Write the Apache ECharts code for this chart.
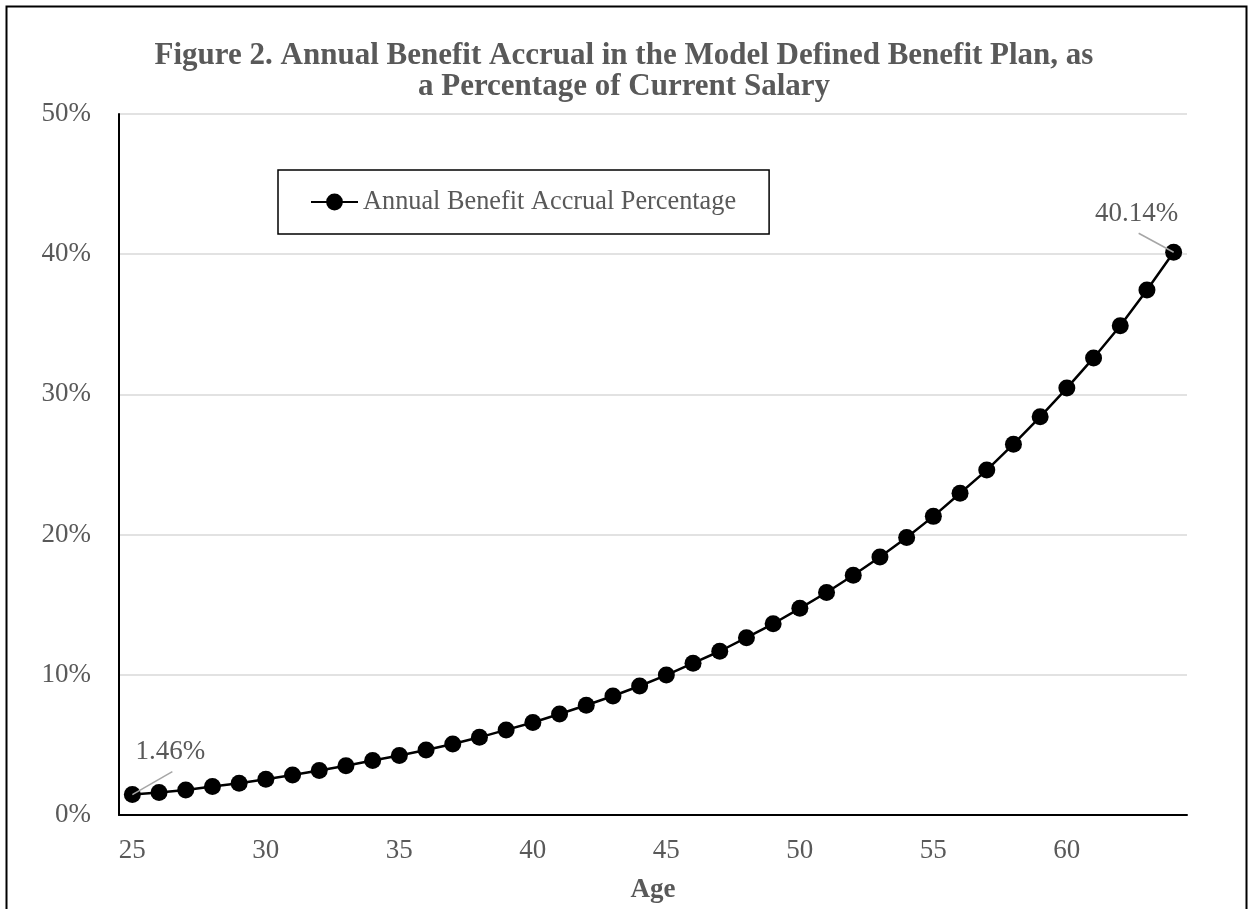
<!DOCTYPE html>
<html>
<head>
<meta charset="utf-8">
<title>Annual Benefit Accrual</title>
<script src="https://cdn.jsdelivr.net/npm/echarts@6/dist/echarts.min.js"></script>
<style>
  html, body { margin: 0; padding: 0; background: #fff; }
  #chart { width: 1248px; height: 909px; }
</style>
</head>
<body>
<div id="chart"></div>
<script>
// Ages 25..64 and the accrual (% of current salary) earned at each age
const ages = [25, 26, 27, 28, 29, 30, 31, 32, 33, 34,
              35, 36, 37, 38, 39, 40, 41, 42, 43, 44,
              45, 46, 47, 48, 49, 50, 51, 52, 53, 54,
              55, 56, 57, 58, 59, 60, 61, 62, 63, 64];
const accrualPct = [1.46, 1.61, 1.78, 2.03, 2.27, 2.55, 2.85, 3.18, 3.52, 3.89,
                    4.25, 4.63, 5.07, 5.54, 6.07, 6.60, 7.20, 7.83, 8.49, 9.20,
                    9.98, 10.83, 11.68, 12.65, 13.64, 14.74, 15.87, 17.10, 18.40, 19.80,
                    21.30, 22.95, 24.60, 26.45, 28.40, 30.45, 32.60, 34.90, 37.45, 40.14];
const yTicks = [0, 10, 20, 30, 40, 50];
const seriesName = 'Annual Benefit Accrual Percentage';
const titleLines = ['Figure 2. Annual Benefit Accrual in the Model Defined Benefit Plan, as',
                    'a Percentage of Current Salary'];
const xAxisTitle = 'Age';

const FONT = "'Liberation Serif', 'Times New Roman', serif";
const GREY = '#595959';

// Value callouts on the first and last points: [category index, value]
const lastIdx = accrualPct.length - 1;
const calloutData = [[0, accrualPct[0]], [lastIdx, accrualPct[lastIdx]]];
// Pixel offsets from the point: leader-line end (lx, ly) and text centre (tx, ty)
const calloutOffsets = [
  { lx: 40, ly: -23, tx: 38, ty: -43 },
  { lx: -35, ly: -19, tx: -37, ty: -38 }
];

const chart = echarts.init(document.getElementById('chart'), null, { renderer: 'canvas' });
chart.setOption({
  backgroundColor: '#ffffff',
  animation: false,
  title: {
    text: titleLines.join('\n'),
    left: 'center',
    top: 35,
    textStyle: {
      fontFamily: FONT,
      fontWeight: 'bold',
      fontSize: 31,
      lineHeight: 31,
      color: GREY
    }
  },
  legend: {
    left: 278,
    top: 170,
    orient: 'horizontal',
    padding: [17, 33, 17, 32],
    borderColor: '#000',
    borderWidth: 1.5,
    itemWidth: 47,
    itemHeight: 21,
    itemGap: 5,
    textStyle: { fontFamily: FONT, fontSize: 26.3, color: GREY, lineHeight: 30 },
    data: [{ name: seriesName }]
  },
  grid: { left: 119, right: 61, top: 114, bottom: 88, containLabel: false },
  xAxis: {
    type: 'category',
    data: ages,
    boundaryGap: true,
    name: xAxisTitle,
    nameLocation: 'middle',
    nameGap: 62,
    nameTextStyle: { fontFamily: FONT, fontWeight: 'bold', fontSize: 27, color: GREY },
    axisLine: { lineStyle: { color: '#000', width: 2 } },
    axisTick: { show: false },
    axisLabel: { interval: 4, margin: 22, fontFamily: FONT, fontSize: 27, color: GREY },
    splitLine: { show: false }
  },
  yAxis: {
    type: 'value',
    min: yTicks[0],
    max: yTicks[yTicks.length - 1],
    interval: yTicks[1] - yTicks[0],
    axisLine: { show: true, lineStyle: { color: '#000', width: 2 } },
    axisTick: { show: false },
    axisLabel: { margin: 28, fontFamily: FONT, fontSize: 27, color: GREY, formatter: '{value}%' },
    splitLine: { lineStyle: { color: '#d9d9d9', width: 1.5 } }
  },
  series: [{
    name: seriesName,
    type: 'line',
    data: accrualPct,
    symbol: 'circle',
    symbolSize: 17,
    showAllSymbol: true,
    itemStyle: { color: '#000' },
    lineStyle: { color: '#000', width: 2.5 },
    z: 2
  }, {
    // Leader lines and value text for the end points, placed through the axes
    name: 'callouts',
    type: 'custom',
    data: calloutData,
    z: 5,
    silent: true,
    renderItem: (params, api) => {
      const v = api.value(1);
      const p = api.coord([api.value(0), v]);
      const o = calloutOffsets[params.dataIndex];
      return {
        type: 'group',
        children: [{
          type: 'line',
          shape: { x1: p[0], y1: p[1], x2: p[0] + o.lx, y2: p[1] + o.ly },
          style: { stroke: '#a6a6a6', lineWidth: 1.5 }
        }, {
          type: 'text',
          x: p[0] + o.tx,
          y: p[1] + o.ty,
          style: {
            text: v.toFixed(2) + '%',
            fill: GREY,
            fontFamily: FONT,
            fontSize: 27,
            align: 'center',
            verticalAlign: 'middle'
          }
        }]
      };
    }
  }],
  graphic: [{
    type: 'rect',
    left: 4,
    top: 4,
    shape: { width: 1240, height: 920 },
    style: { fill: 'none', stroke: '#000', lineWidth: 2 },
    silent: true
  }]
});
</script>
</body>
</html>
